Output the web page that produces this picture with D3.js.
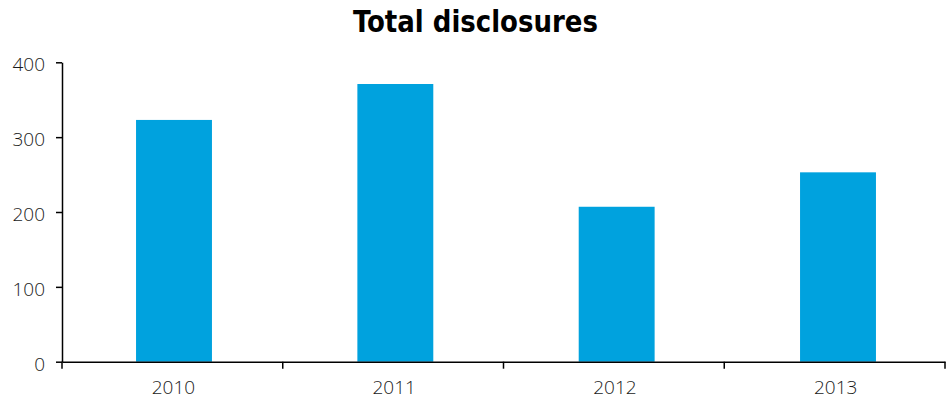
<!DOCTYPE html>
<html>
<head>
<meta charset="utf-8">
<script src="https://cdn.jsdelivr.net/npm/d3@7"></script>
<style>
  html, body { margin: 0; padding: 0; background: #fff; }
  svg { display: block; }
  .tick text { font-family: "Open Sans", "DejaVu Sans", sans-serif; font-weight: 300; font-size: 19px; fill: #1a1a1a; }
</style>
</head>
<body>
<svg id="chart" width="952" height="400"></svg>
<script>
// Disclosures per year
const years = ["2010", "2011", "2012", "2013"];
const disclosures = [323, 371, 207, 253];
const yTicks = [0, 100, 200, 300, 400];

const svg = d3.select("#chart");
const plotLeft = 62, plotRight = 945, plotTop = 62.3, plotBottom = 361.7;

const x = d3.scaleBand().domain(years).range([plotLeft, plotRight]);
const xBars = d3.scaleBand().domain(years).range([plotLeft + 1, plotRight + 4]).paddingInner(0.657).paddingOuter(0.33);
const y = d3.scaleLinear().domain([0, 400]).range([plotBottom, plotTop]);

// title
svg.append("text")
  .attr("x", 475.5)
  .attr("y", 32)
  .attr("text-anchor", "middle")
  .attr("font-family", "'Liberation Sans Narrow', 'DejaVu Sans Condensed', sans-serif")
  .attr("font-weight", "bold")
  .attr("font-size", 30)
  .attr("textLength", 245)
  .attr("lengthAdjust", "spacingAndGlyphs")
  .attr("fill", "#000")
  .text("Total disclosures");

// bars
svg.append("g")
  .selectAll("rect")
  .data(years)
  .join("rect")
  .attr("x", (d) => xBars(d))
  .attr("width", xBars.bandwidth())
  .attr("y", (d, i) => y(disclosures[i]))
  .attr("height", (d, i) => y(0) - y(disclosures[i]))
  .attr("fill", "#00A2DE");

// y axis
const yAxis = svg.append("g")
  .attr("transform", `translate(${plotLeft},0)`)
  .call(d3.axisLeft(y).tickValues(yTicks).tickSize(6).tickSizeOuter(0).tickPadding(11));
yAxis.selectAll("line, path").attr("stroke", "#000").attr("stroke-width", 1.5);
yAxis.selectAll("text").attr("dy", "0.45em");

// x axis with ticks at category boundaries
const xAxis = svg.append("g")
  .attr("transform", `translate(0,${plotBottom})`)
  .call(d3.axisBottom(x).tickSize(0).tickPadding(19));
xAxis.select(".domain").attr("stroke", "#000").attr("stroke-width", 1.5);
const bounds = years.map((d) => x(d)).concat([plotRight]);
xAxis.selectAll(".bound")
  .data(bounds)
  .join("line")
  .attr("class", "bound")
  .attr("x1", (d) => d).attr("x2", (d) => d)
  .attr("y1", 0).attr("y2", 7)
  .attr("stroke", "#000").attr("stroke-width", 1.5);
xAxis.selectAll(".tick text").attr("transform", "translate(1,0)");
</script>
</body>
</html>
